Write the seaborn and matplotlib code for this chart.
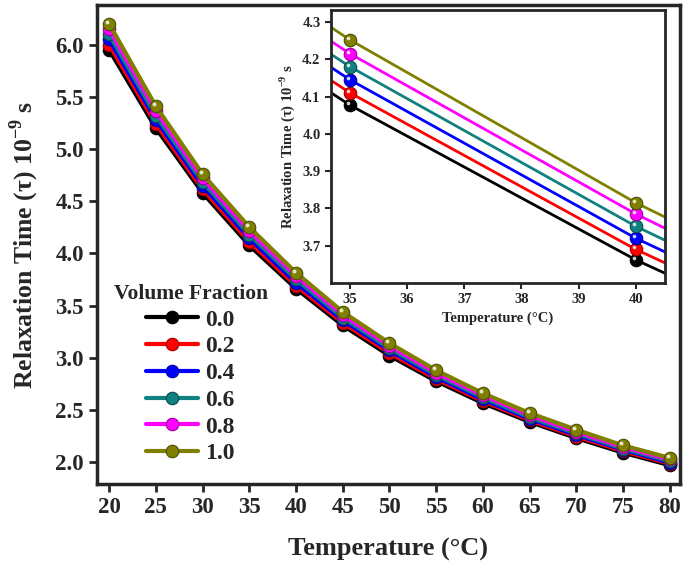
import numpy as np
import pandas as pd
import matplotlib
matplotlib.use("Agg")
import matplotlib.pyplot as plt
import seaborn as sns
from matplotlib import transforms
from matplotlib import colors as mcolors

# Relaxation time (x 10^-9 s) vs temperature for each volume fraction
temperature = [20, 25, 30, 35, 40, 45, 50, 55, 60, 65, 70, 75, 80]
tau_00 = [5.95, 5.20, 4.58, 4.077, 3.662, 3.31, 3.02, 2.775, 2.565, 2.385, 2.23, 2.09, 1.97]
tau_02 = [6.00, 5.24, 4.615, 4.11, 3.69, 3.335, 3.045, 2.795, 2.585, 2.40, 2.245, 2.105, 1.985]
tau_04 = [6.05, 5.28, 4.65, 4.145, 3.72, 3.36, 3.07, 2.815, 2.60, 2.415, 2.26, 2.12, 1.995]
tau_06 = [6.10, 5.32, 4.685, 4.18, 3.752, 3.385, 3.09, 2.835, 2.62, 2.43, 2.275, 2.13, 2.01]
tau_08 = [6.15, 5.365, 4.72, 4.215, 3.785, 3.41, 3.115, 2.855, 2.64, 2.45, 2.29, 2.145, 2.025]
tau_10 = [6.20, 5.41, 4.76, 4.252, 3.815, 3.44, 3.14, 2.88, 2.66, 2.47, 2.31, 2.16, 2.04]

fractions = ["0.0", "0.2", "0.4", "0.6", "0.8", "1.0"]
line_colors = ["#000000", "#ff0000", "#0000ff", "#108080", "#ff00ff", "#808000"]

series = [tau_00, tau_02, tau_04, tau_06, tau_08, tau_10]
df = pd.concat([pd.DataFrame({"Temperature": temperature, "tau": s, "fraction": f})
                for s, f in zip(series, fractions)], ignore_index=True)

sns.set_style("ticks")
plt.rcParams["font.family"] = ["Liberation Serif", "DejaVu Serif"]
plt.rcParams["font.weight"] = "bold"
plt.rcParams["axes.labelweight"] = "bold"
plt.rcParams["mathtext.fontset"] = "custom"
plt.rcParams["mathtext.rm"] = "Liberation Serif"
plt.rcParams["mathtext.bf"] = "Liberation Serif:bold"

fig = plt.figure(figsize=(6.85, 5.67), dpi=100)
ax = fig.add_axes([0.1416, 0.1464, 0.8511, 0.8448])


def draw(axis, ms, lw, hl_size, with_label):
    for frac, col in zip(fractions, line_colors):
        sub = df[df["fraction"] == frac]
        dark = np.array(mcolors.to_rgb(col)) * 0.6
        light = np.array(mcolors.to_rgb(col)) * 0.2 + 0.8
        sns.lineplot(data=sub, x="Temperature", y="tau", color=col, linewidth=lw,
                     marker="o", markersize=ms, markeredgecolor=dark, markeredgewidth=0.8,
                     label=frac if with_label else None, legend=False, ax=axis)
        # small glossy highlight on each sphere marker
        off = transforms.ScaledTranslation(-1.4 / 72, 1.4 / 72, fig.dpi_scale_trans)
        axis.scatter(sub["Temperature"], sub["tau"], s=hl_size, color=light,
                     linewidths=0, transform=axis.transData + off, zorder=2)


draw(ax, 9, 3, 8, True)
ax.set_xlim(18.7, 81.1)
ax.set_ylim(1.79, 6.38)
ax.set_xticks(temperature)
ax.set_yticks(np.arange(2.0, 6.01, 0.5))
ax.yaxis.set_major_formatter(matplotlib.ticker.FormatStrFormatter("%.1f"))
ax.tick_params(direction="out", length=6, width=2, labelsize=16.5)
for sp in ax.spines.values():
    sp.set_linewidth(2.5)
    sp.set_visible(True)
ax.set_xlabel("Temperature (°C)", fontsize=19, fontweight="bold", labelpad=14)
ax.set_ylabel(r"Relaxation Time (τ) 10$^{\mathbf{-9}}$ s", fontsize=18.5, fontweight="bold", labelpad=10)

leg = ax.legend(loc="upper left", bbox_to_anchor=(0.0, 0.452), frameon=False,
                title="Volume Fraction", handlelength=2.2, labelspacing=0.22,
                handletextpad=0.3, borderpad=0.2,
                prop={"weight": "bold", "size": 17})
leg.get_title().set_fontsize(15.5)
leg.get_title().set_fontweight("bold")

# inset zoom on 35-40 °C
ins = fig.add_axes([0.4832, 0.5009, 0.4876, 0.4815])
ins.set_facecolor("white")
draw(ins, 9, 2, 7, False)
ins.set_xlim(34.67, 40.51)
ins.set_ylim(3.60, 4.332)
ins.set_xticks([35, 36, 37, 38, 39, 40])
ins.set_yticks([3.7, 3.8, 3.9, 4.0, 4.1, 4.2, 4.3])
ins.yaxis.set_major_formatter(matplotlib.ticker.FormatStrFormatter("%.1f"))
ins.tick_params(direction="out", length=4, width=1.5, labelsize=10.5)
for sp in ins.spines.values():
    sp.set_linewidth(2)
    sp.set_visible(True)
ins.set_xlabel("Temperature (°C)", fontsize=10.5, fontweight="bold")
ins.set_ylabel(r"Relaxation Time (τ) 10$^{\mathbf{-9}}$ s", fontsize=10.5, fontweight="bold")

fig.savefig("out.png", dpi=100)
